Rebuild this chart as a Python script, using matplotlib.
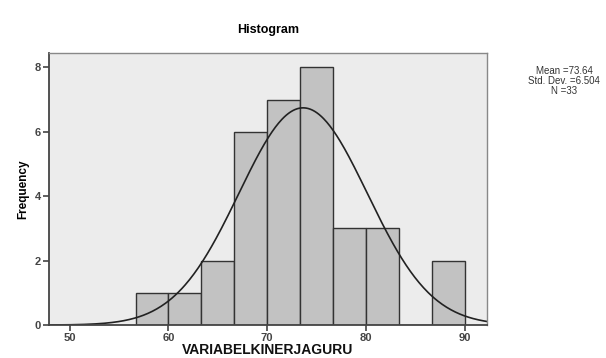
import numpy as np
import matplotlib
matplotlib.use("Agg")
import matplotlib.pyplot as plt

plt.rcParams['font.family'] = ['Liberation Sans', 'DejaVu Sans']

# histogram bins
bin_edges = [56.667, 60.0, 63.333, 66.667, 70.0, 73.333, 76.667, 80.0, 83.333, 86.667, 90.0]
counts = [1, 1, 2, 6, 7, 8, 3, 3, 0, 2]
mean = 73.64
std = 6.504
n = 33
xticks = [50, 60, 70, 80, 90]
yticks = [0, 2, 4, 6, 8]

fig = plt.figure(figsize=(6.06, 3.58), dpi=100)
ax = fig.add_axes([0.081, 0.092, 0.723, 0.760])
ax.set_facecolor('#ececec')

lefts = bin_edges[:-1]
widths = np.diff(bin_edges)
ax.bar(lefts, counts, width=widths, align='edge', color='#c2c2c2',
       edgecolor='#333333', linewidth=1.0)

x = np.linspace(47.9, 92.3, 400)
bw = widths[0]
y = n * bw / (std * np.sqrt(2 * np.pi)) * np.exp(-0.5 * ((x - mean) / std) ** 2)
ax.plot(x, y, color='#222222', linewidth=1.2)

ax.set_xlim(47.9, 92.3)
ax.set_ylim(0, 8.45)
ax.set_xticks(xticks)
ax.set_yticks(yticks)
ax.tick_params(labelsize=8, colors='#444444', length=4, width=1.2, pad=2)
for lab in ax.get_xticklabels() + ax.get_yticklabels():
    lab.set_fontweight('bold')
for s in ['top', 'right']:
    ax.spines[s].set_color('#888888')
    ax.spines[s].set_linewidth(1)
for s in ['left', 'bottom']:
    ax.spines[s].set_color('#444444')
    ax.spines[s].set_linewidth(1.3)

fig.text(0.442, 0.022, 'VARIABELKINERJAGURU', ha='center', va='center',
         fontsize=10, fontweight='bold', color='#111111')
ax.set_ylabel('Frequency', fontsize=8.5, fontweight='bold', labelpad=4)
fig.text(0.442, 0.915, 'Histogram', ha='center', va='center',
         fontsize=9, fontweight='bold')
fig.text(0.931, 0.815, 'Mean =73.64\nStd. Dev. =6.504\nN =33', ha='center',
         va='top', fontsize=7, color='#333333', linespacing=1.0)

fig.savefig('out.png', dpi=100)
